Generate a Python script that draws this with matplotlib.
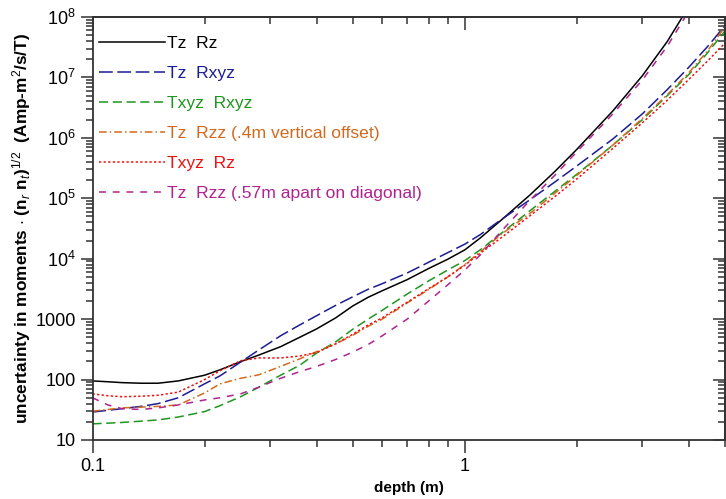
import numpy as np
import matplotlib
matplotlib.use("Agg")
import matplotlib.pyplot as plt
from matplotlib.ticker import FixedLocator, FuncFormatter, NullFormatter

plt.rcParams["font.family"] = ["Liberation Sans", "DejaVu Sans"]
plt.rcParams["mathtext.fontset"] = "custom"
plt.rcParams["mathtext.rm"] = "Liberation Sans"
plt.rcParams["mathtext.it"] = "Liberation Sans:italic"
plt.rcParams["mathtext.bf"] = "Liberation Sans:bold"

# ---- data (depth in m, uncertainty) ----
depth = [0.1, 0.11, 0.12, 0.135, 0.15, 0.17, 0.2, 0.22, 0.25, 0.28, 0.32, 0.36,
         0.4, 0.45, 0.5, 0.55, 0.6, 0.7, 0.8, 0.9, 1.0, 1.1, 1.25, 1.5, 1.75,
         2.0, 2.5, 3.0, 3.5, 4.0, 4.5, 5.0]

tz_rz = [95, 92, 89, 87, 87, 95, 118, 145, 198, 255, 350, 500,
         690, 1050, 1650, 2300, 2950, 4500, 6900, 9800, 14000, 22000, 43000, 115000, 282000,
         6.46e5, 2.8e6, 1.07e7, 3.95e7, 1.5e8, 5e8, 1.5e9]

tz_rxyz = [29, 31, 33, 36, 40, 50, 85, 115, 195, 310, 530, 800,
           1140, 1690, 2340, 3120, 3860, 5800, 8750, 12600, 17400, 25000, 44000, 95500, 188000,
           3.43e5, 9.6e5, 2.5e6, 6.3e6, 1.48e7, 3.3e7, 7.2e7]

txyz_rxyz = [18.5, 19, 19.5, 20.5, 21.5, 24, 29.5, 37, 52, 75, 118, 172,
             275, 420, 680, 1000, 1400, 2600, 4300, 6500, 9300, 14000, 26000, 63000, 132000,
             2.5e5, 7.6e5, 2.0e6, 5.0e6, 1.12e7, 2.6e7, 5.9e7]

tz_rzz_vert = [30, 32, 34, 35, 36, 38, 60, 85, 105, 120, 165, 220,
               290, 390, 540, 760, 1000, 1850, 3100, 5000, 8000, 13000, 25000, 57000, 123000,
               2.4e5, 7.6e5, 2.1e6, 5.2e6, 1.2e7, 2.8e7, 6.9e7]

txyz_rz = [58, 54, 52, 53, 55, 62, 100, 140, 205, 228, 228, 245,
           280, 390, 560, 800, 1050, 1900, 3200, 5000, 7800, 12300, 22000, 52000, 108000,
           2.09e5, 6.7e5, 1.78e6, 4.2e6, 9.3e6, 1.9e7, 3.7e7]

tz_rzz_diag = [50, 38, 33, 32, 34, 38, 46, 50, 58, 75, 105, 135,
               165, 215, 285, 380, 530, 1000, 2000, 3700, 6500, 11500, 28000, 94000, 245000,
               5.9e5, 2.5e6, 9.1e6, 3.3e7, 1.26e8, 4.5e8, 1.5e9]

labels = ["Tz  Rz", "Tz  Rxyz", "Txyz  Rxyz", "Tz  Rzz (.4m vertical offset)",
          "Txyz  Rz", "Tz  Rzz (.57m apart on diagonal)"]
series = [tz_rz, tz_rxyz, txyz_rxyz, tz_rzz_vert, txyz_rz, tz_rzz_diag]
colors = ["#000000", "#1c1c94", "#1f961f", "#d2691e", "#ee1111", "#b0238f"]
styles = ["-", (0, (9, 3)), (0, (6, 3)), (0, (5, 2, 1, 2)), (0, (1.5, 1.5)), (0, (4.5, 4.5))]

fig = plt.figure(figsize=(7.26, 4.99), dpi=100)
ax = fig.add_axes([92.5 / 726, 59 / 499, (725 - 92.5) / 726, (440 - 17) / 499])

for vals, col, ls, lab in zip(series, colors, styles, labels):
    ax.plot(depth, vals, color=col, linestyle=ls, linewidth=1.1, label=lab)

ax.set_xscale("log")
ax.set_yscale("log")
ax.set_xlim(0.1, 5.0)
ax.set_ylim(10, 1e8)

xmajor = [0.1, 1.0]
xminor = [0.2, 0.3, 0.4, 0.5, 0.6, 0.7, 0.8, 0.9, 2, 3, 4, 5]
ymajor = [10.0 ** k for k in range(1, 9)]
yminor = [m * 10.0 ** k for k in range(1, 8) for m in range(2, 10)]


def ylab(v, pos):
    if v <= 1000:
        return "%d" % round(v)
    return r"$10^{%d}$" % round(np.log10(v))


ax.xaxis.set_major_locator(FixedLocator(xmajor))
ax.xaxis.set_minor_locator(FixedLocator(xminor))
ax.xaxis.set_major_formatter(FuncFormatter(lambda v, p: "%g" % v))
ax.xaxis.set_minor_formatter(NullFormatter())
ax.yaxis.set_major_locator(FixedLocator(ymajor))
ax.yaxis.set_minor_locator(FixedLocator(yminor))
ax.yaxis.set_major_formatter(FuncFormatter(ylab))
ax.yaxis.set_minor_formatter(NullFormatter())

ax.tick_params(which="both", direction="out", labelsize=13, color="#333333", width=1.1)
ax.tick_params(which="major", length=9)
ax.tick_params(which="minor", length=5)
ax.tick_params(axis="x", which="major", pad=4)
ax.tick_params(axis="y", which="major", pad=3)

# top / right ticks point into the plot
top = ax.secondary_xaxis("top")
top.xaxis.set_major_locator(FixedLocator(xmajor))
top.xaxis.set_minor_locator(FixedLocator(xminor))
top.xaxis.set_major_formatter(NullFormatter())
top.xaxis.set_minor_formatter(NullFormatter())
top.tick_params(which="both", direction="in", color="#333333", width=1.1)
top.tick_params(which="major", length=9)
top.tick_params(which="minor", length=5)

right = ax.secondary_yaxis("right")
right.yaxis.set_major_locator(FixedLocator(ymajor))
right.yaxis.set_minor_locator(FixedLocator(yminor))
right.yaxis.set_major_formatter(NullFormatter())
right.yaxis.set_minor_formatter(NullFormatter())
right.tick_params(which="both", direction="in", color="#333333", width=1.1)
right.tick_params(which="major", length=9)
right.tick_params(which="minor", length=5)

for sp in list(ax.spines.values()) + [top.spines["top"], right.spines["right"]]:
    sp.set_linewidth(1.3)
    sp.set_color("#333333")

ax.set_xlabel("depth (m)", fontsize=11, fontweight="bold", labelpad=4)
ax.set_ylabel(r"uncertainty in moments $\cdot$ (n$_r$ n$_t$)$^{1/2}$  (Amp-m$^2$/s/T)",
              fontsize=12.4, fontweight="bold", labelpad=2)

leg = ax.legend(loc="upper left", bbox_to_anchor=(-0.0145, 0.993), frameon=False,
                fontsize=12.6, handlelength=3.77, handletextpad=0.1, labelspacing=0.84)
for txt, col in zip(leg.get_texts(), colors):
    txt.set_color(col)

fig.savefig("out.png", dpi=100)
